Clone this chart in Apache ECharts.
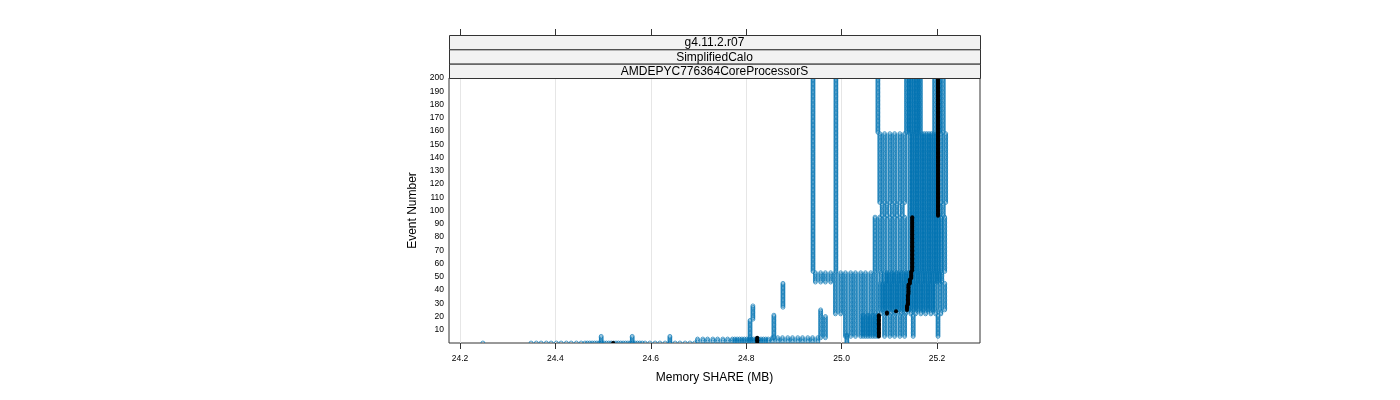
<!DOCTYPE html>
<html><head><meta charset="utf-8">
<script src="https://cdn.jsdelivr.net/npm/echarts@6/dist/echarts.min.js"></script>
<style>html,body{margin:0;padding:0;background:#fff}#chart{width:1400px;height:400px}</style>
</head><body><div id="chart"></div>
<script>
// ---- data ----
const stripLabels = ['g4.11.2.r07', 'SimplifiedCalo', 'AMDEPYC776364CoreProcessorS'];
const xTicks = [24.2, 24.4, 24.6, 24.8, 25.0, 25.2];
const yStep = 10;

// isolated runs: [memory MB, first event, last event]
const blueRuns = [
  [24.940, 54, 200], [24.988, 54, 200], [25.076, 159, 200],
  [25.150, 5, 21], [25.202, 5, 21],
  [24.956, 4, 25], [24.966, 4, 20],
  [24.858, 4, 21], [24.808, 2, 17], [24.814, 18, 28], [24.877, 27, 45],
  [25.011, 0, 6], [24.640, 0, 5], [24.496, 0, 5], [24.561, 0, 5], [24.248, 0, 0]
];

// blocks: event range and the memory values present over that range
const blockEvents = [
  [159, 200], [106, 158], [96, 105], [54, 95], [46, 53], [25, 45], [22, 24], [5, 21],
  [1, 4], [1, 3], [0, 0]
];
const blockMemory = [
  [25.136, 25.141, 25.146, 25.151, 25.156, 25.161, 25.165, 25.195, 25.204, 25.213],
  [25.080, 25.090, 25.101, 25.111, 25.122, 25.132, 25.143, 25.148, 25.153, 25.158, 25.163, 25.168, 25.173, 25.178, 25.183, 25.188, 25.193, 25.198, 25.208, 25.218],
  [25.085, 25.095, 25.106, 25.116, 25.127, 25.143, 25.148, 25.153, 25.158, 25.163, 25.168, 25.173, 25.178, 25.183, 25.188, 25.193, 25.198, 25.203, 25.213],
  [25.070, 25.080, 25.090, 25.101, 25.111, 25.122, 25.132, 25.143, 25.148, 25.153, 25.158, 25.163, 25.168, 25.173, 25.178, 25.183, 25.188, 25.193, 25.198, 25.203, 25.208, 25.216],
  [24.945, 24.956, 24.966, 24.977, 24.987, 24.998, 25.008, 25.019, 25.029, 25.040, 25.050, 25.061, 25.071, 25.082, 25.090, 25.095, 25.100, 25.105, 25.110, 25.115, 25.120, 25.125, 25.130, 25.135, 25.140, 25.145, 25.150, 25.155, 25.160, 25.165, 25.170, 25.175, 25.180, 25.185, 25.190, 25.195, 25.200, 25.205, 25.210],
  [24.987, 24.998, 25.008, 25.019, 25.029, 25.040, 25.050, 25.061, 25.071, 25.081, 25.086, 25.091, 25.096, 25.101, 25.106, 25.111, 25.116, 25.121, 25.126, 25.131, 25.136, 25.141, 25.146, 25.151, 25.156, 25.161, 25.166, 25.171, 25.176, 25.181, 25.186, 25.191, 25.196, 25.206, 25.216],
  [24.987, 24.998, 25.008, 25.019, 25.029, 25.040, 25.050, 25.061, 25.071, 25.082, 25.092, 25.103, 25.113, 25.124, 25.134, 25.145, 25.155, 25.166, 25.176, 25.187, 25.197, 25.208],
  [25.008, 25.019, 25.029, 25.040, 25.045, 25.050, 25.055, 25.060, 25.065, 25.070, 25.075, 25.090, 25.101, 25.111, 25.122, 25.132],
  [24.855, 24.866, 24.876, 24.887, 24.897, 24.908, 24.918, 24.929, 24.939, 24.950],
  [24.698, 24.709, 24.719, 24.730, 24.740, 24.751, 24.761, 24.771, 24.776, 24.781, 24.786, 24.791, 24.796, 24.801, 24.806, 24.811, 24.816, 24.821, 24.826, 24.831, 24.836, 24.841, 24.846],
  [24.349, 24.360, 24.370, 24.381, 24.391, 24.402, 24.412, 24.423, 24.433, 24.444, 24.454, 24.462, 24.467, 24.472, 24.477, 24.482, 24.487, 24.492, 24.497, 24.502, 24.507, 24.512, 24.517, 24.522, 24.527, 24.532, 24.537, 24.542, 24.547, 24.552, 24.557, 24.562, 24.567, 24.572, 24.577, 24.582, 24.588, 24.598, 24.609, 24.619, 24.630, 24.640, 24.651, 24.661, 24.672, 24.682, 24.692]
];

// median runs: [memory MB, first event, last event]
const medianRuns = [
  [24.521, 0, 0], [24.823, 1, 4], [25.078, 5, 21], [25.095, 22, 23], [25.114, 24, 24],
  [25.137, 25, 28], [25.139, 29, 36], [25.140, 37, 44], [25.143, 45, 48], [25.146, 49, 54],
  [25.148, 55, 95], [25.202, 96, 200]
];

// ---- build points ----
function expandRuns(runs) {
  const pts = [];
  runs.forEach(([x, e0, e1]) => { for (let e = e0; e <= e1; e++) pts.push([x, e]); });
  return pts;
}
const bluePts = expandRuns(blueRuns);
blockEvents.forEach(([e0, e1], i) => {
  blockMemory[i].forEach(x => { for (let e = e0; e <= e1; e++) bluePts.push([x, e]); });
});
const medianPts = expandRuns(medianRuns);

// ---- layout ----
const FONT = 'Liberation Sans, Arial, Helvetica, sans-serif';
const G = { left: 449, top: 78, width: 531, height: 265 };
const stripTop = 35;
const stripH = (G.top - stripTop) / stripLabels.length;
const xMin = 24.177, xMax = 25.290;
const BLUE = '#0072B2';

const graphics = [];
stripLabels.forEach((t, i) => {
  graphics.push({
    type: 'rect', z: 10, silent: true,
    shape: { x: G.left + 0.5, y: stripTop + i * stripH + 0.5, width: G.width, height: stripH },
    style: { fill: '#f2f2f2', stroke: '#333', lineWidth: 1 }
  });
  graphics.push({
    type: 'text', z: 11, silent: true,
    x: G.left + G.width / 2, y: stripTop + i * stripH + stripH / 2 + 1,
    style: { text: t, fill: '#000', font: '12px ' + FONT, textAlign: 'center', textVerticalAlign: 'middle' }
  });
});

function circleItem(r, style) {
  return function (params, api) {
    const p = api.coord([api.value(0), api.value(1)]);
    return { type: 'circle', silent: true, shape: { cx: p[0], cy: p[1], r: r }, style: style };
  };
}

const chart = echarts.init(document.getElementById('chart'), null, { renderer: 'canvas' });
chart.setOption({
  animation: false,
  textStyle: { fontFamily: FONT },
  grid: { left: G.left, top: G.top, width: G.width, height: G.height, show: true, borderColor: '#333', borderWidth: 1, backgroundColor: 'transparent' },
  xAxis: [
    {
      type: 'value', min: xMin, max: xMax, position: 'bottom',
      axisLine: { show: false },
      axisTick: { show: true, customValues: xTicks, length: 6, lineStyle: { color: '#333' } },
      axisLabel: { customValues: xTicks, formatter: v => v.toFixed(1), fontSize: 8.5, color: '#000', margin: 11, fontFamily: FONT },
      splitLine: { show: false },
      name: 'Memory SHARE (MB)', nameLocation: 'middle', nameGap: 29,
      nameTextStyle: { fontSize: 12, color: '#000', fontFamily: FONT }
    },
    {
      type: 'value', min: xMin, max: xMax, position: 'top', offset: G.top - stripTop,
      axisLine: { show: false },
      axisTick: { show: true, customValues: xTicks, length: 6, lineStyle: { color: '#333' } },
      axisLabel: { show: false }, splitLine: { show: false }
    }
  ],
  yAxis: {
    type: 'value', min: 0, max: 200, interval: yStep,
    axisLine: { show: false }, axisTick: { show: false }, splitLine: { show: false },
    axisLabel: { formatter: v => (v === 0 ? '' : String(v)), fontSize: 8.5, color: '#000', margin: 5, fontFamily: FONT },
    name: 'Event Number', nameLocation: 'middle', nameGap: 30,
    nameTextStyle: { fontSize: 12, color: '#000', fontFamily: FONT }
  },
  series: [
    {
      type: 'scatter', data: [], z: 1, silent: true,
      markLine: {
        silent: true, z: 1, symbol: ['none', 'none'], label: { show: false },
        lineStyle: { color: '#e6e6e6', width: 1, type: 'solid' },
        emphasis: { disabled: true },
        data: xTicks.map(v => ({ xAxis: v }))
      }
    },
    {
      type: 'custom', data: bluePts, z: 3, silent: true, clip: true, progressive: 0,
      encode: { x: 0, y: 1 },
      renderItem: circleItem(1.95, { fill: 'none', stroke: BLUE, lineWidth: 0.7 })
    },
    {
      type: 'custom', data: medianPts, z: 4, silent: true, clip: true, progressive: 0,
      encode: { x: 0, y: 1 },
      renderItem: circleItem(2.0, { fill: '#000', stroke: 'none' })
    }
  ],
  graphic: graphics
});
</script>
</body></html>
